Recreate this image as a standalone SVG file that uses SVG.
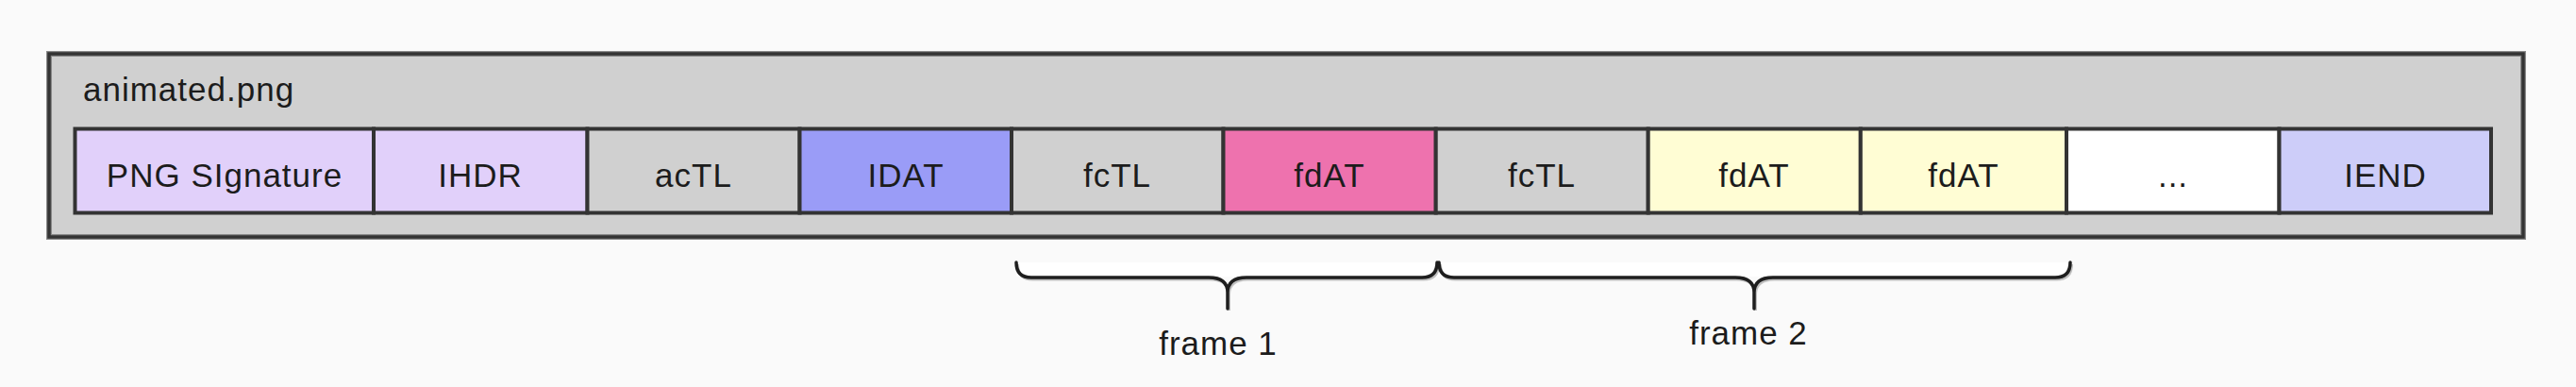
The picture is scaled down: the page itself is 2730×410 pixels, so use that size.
<svg xmlns="http://www.w3.org/2000/svg" width="2730" height="410" viewBox="0 0 2730 410">
  <style>
    .lbl { font-family: "Liberation Sans", Arial, Helvetica, sans-serif; font-size: 35px; fill: #1c1c1c; letter-spacing: 1px; }
    .mid { text-anchor: middle; }
    .chunk { stroke: #333333; stroke-width: 4; }
    .brace { fill: none; stroke: #1e1e1e; stroke-width: 3.5; stroke-linecap: round; stroke-linejoin: round; }
    .braceShadow { fill: none; stroke: #9a9a9a; stroke-width: 3; opacity: 0.6; }
  </style>
  <rect x="0" y="0" width="2730" height="410" fill="#fafafa"/>

  <g id="file">
    <rect x="52" y="57" width="2622" height="194" fill="#d0d0d0" stroke="#8a8a8a" stroke-width="6"/>
    <rect x="52" y="57" width="2622" height="194" fill="none" stroke="#333333" stroke-width="3.5"/>
    <text class="lbl" x="88" y="107">animated.png</text>
  </g>

  <g id="chunk-png-signature">
    <rect class="chunk" x="79.5" y="136.5" width="316.5" height="89" fill="#e1d0fa"/>
    <text class="lbl mid" x="238" y="198">PNG SIgnature</text>
  </g>
  <g id="chunk-ihdr">
    <rect class="chunk" x="396" y="136.5" width="226.5" height="89" fill="#e1d0fa"/>
    <text class="lbl mid" x="509" y="198">IHDR</text>
  </g>
  <g id="chunk-actl">
    <rect class="chunk" x="622.5" y="136.5" width="225" height="89" fill="#d0d0d0"/>
    <text class="lbl mid" x="735" y="198">acTL</text>
  </g>
  <g id="chunk-idat">
    <rect class="chunk" x="847.5" y="136.5" width="224.5" height="89" fill="#9a9cf7"/>
    <text class="lbl mid" x="960" y="198">IDAT</text>
  </g>
  <g id="chunk-fctl-1">
    <rect class="chunk" x="1072" y="136.5" width="224.5" height="89" fill="#d0d0d0"/>
    <text class="lbl mid" x="1184" y="198">fcTL</text>
  </g>
  <g id="chunk-fdat-1">
    <rect class="chunk" x="1296.5" y="136.5" width="225.2" height="89" fill="#ee72ae"/>
    <text class="lbl mid" x="1409" y="198">fdAT</text>
  </g>
  <g id="chunk-fctl-2">
    <rect class="chunk" x="1521.7" y="136.5" width="225" height="89" fill="#d0d0d0"/>
    <text class="lbl mid" x="1634" y="198">fcTL</text>
  </g>
  <g id="chunk-fdat-2">
    <rect class="chunk" x="1746.7" y="136.5" width="225.1" height="89" fill="#fffdd4"/>
    <text class="lbl mid" x="1859" y="198">fdAT</text>
  </g>
  <g id="chunk-fdat-3">
    <rect class="chunk" x="1971.8" y="136.5" width="218.2" height="89" fill="#fffdd4"/>
    <text class="lbl mid" x="2081" y="198">fdAT</text>
  </g>
  <g id="chunk-more">
    <rect class="chunk" x="2190" y="136.5" width="225.5" height="89" fill="#ffffff"/>
    <text class="lbl mid" x="2303" y="198">...</text>
  </g>
  <g id="chunk-iend">
    <rect class="chunk" x="2415.5" y="136.5" width="224.5" height="89" fill="#cdcdf9"/>
    <text class="lbl mid" x="2528" y="198">IEND</text>
  </g>

  <g id="connectors">
    <rect x="1077" y="278" width="1117" height="15" fill="#ffffff"/>
    <g transform="translate(1.5,2)">
      <path class="braceShadow" d="M1077,278 Q1077,294 1093,294 H1281 Q1301,294 1301,310 M1523,278 Q1523,294 1507,294 H1321 Q1301,294 1301,310 V327"/>
      <path class="braceShadow" d="M1525,278 Q1525,294 1541,294 H1839 Q1859,294 1859,310 M2194,278 Q2194,294 2178,294 H1879 Q1859,294 1859,310 V327"/>
    </g>
    <path id="brace-frame-1" class="brace" d="M1077,278 Q1077,294 1093,294 H1281 Q1301,294 1301,310 M1523,278 Q1523,294 1507,294 H1321 Q1301,294 1301,310 V327"/>
    <path id="brace-frame-2" class="brace" d="M1525,278 Q1525,294 1541,294 H1839 Q1859,294 1859,310 M2194,278 Q2194,294 2178,294 H1879 Q1859,294 1859,310 V327"/>
  </g>

  <g id="label-frame-1">
    <text class="lbl mid" x="1291" y="376">frame 1</text>
  </g>
  <g id="label-frame-2">
    <text class="lbl mid" x="1853" y="365">frame 2</text>
  </g>
</svg>
